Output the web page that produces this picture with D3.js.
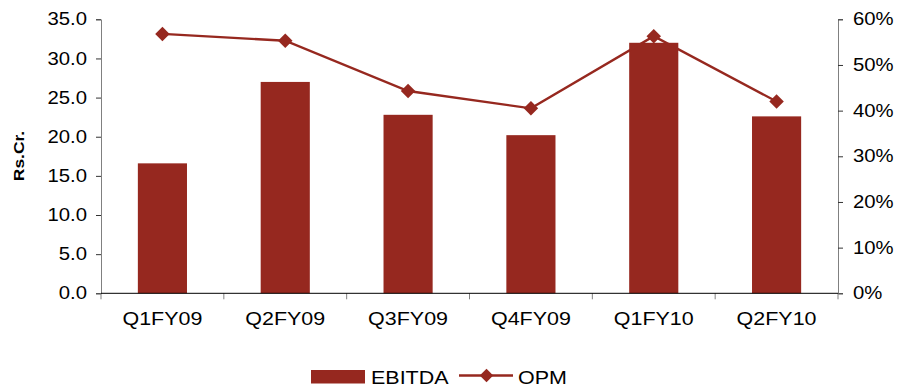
<!DOCTYPE html>
<html>
<head>
<meta charset="utf-8">
<script src="https://cdn.jsdelivr.net/npm/d3@7"></script>
<style>
  html, body { margin: 0; padding: 0; background: #fff; }
  svg { display: block; font-family: "Liberation Sans", Arial, sans-serif; }
</style>
</head>
<body>
<svg id="chart" width="910" height="390"></svg>
<script>
// Quarterly EBITDA (Rs. crore) and operating profit margin
const quarters = ["Q1FY09", "Q2FY09", "Q3FY09", "Q4FY09", "Q1FY10", "Q2FY10"];
const ebitda = [16.6, 27.0, 22.8, 20.2, 32.0, 22.6];
const opm = [0.568, 0.553, 0.443, 0.405, 0.563, 0.420];
const leftTicks = [0, 5, 10, 15, 20, 25, 30, 35];
const rightTicks = [0, 0.1, 0.2, 0.3, 0.4, 0.5, 0.6];

const color = "#96281f";
const axisGrey = "#808080";
const fontFamily = "Liberation Sans, Arial, sans-serif";
const widen = 1.16; // the typeface is set slightly wide

const svg = d3.select("#chart");
const plot = { left: 101, right: 838, top: 19.3, bottom: 293.3 };

const x = d3.scaleBand().domain(quarters).range([plot.left, plot.right]).padding(0);
const yL = d3.scaleLinear().domain([0, 35]).range([plot.bottom, plot.top]);
const yR = d3.scaleLinear().domain([0, 0.6]).range([plot.bottom, plot.top]);
const barW = x.bandwidth() * 0.4;
const markerSize = 105;

// bars
svg.append("g").selectAll("rect").data(quarters).join("rect")
  .attr("x", d => x(d) + (x.bandwidth() - barW) / 2)
  .attr("y", (d, i) => yL(ebitda[i]))
  .attr("width", barW)
  .attr("height", (d, i) => plot.bottom - yL(ebitda[i]))
  .attr("fill", color);

// left axis
const gL = svg.append("g").attr("transform", `translate(${plot.left},0)`)
  .call(d3.axisLeft(yL).tickValues(leftTicks).tickFormat(d3.format(".1f")).tickSize(5).tickPadding(9));
gL.select(".domain").attr("stroke", axisGrey);
gL.selectAll(".tick line").attr("stroke", "#333");
gL.selectAll("text").attr("font-size", "17.5px").attr("fill", "#000").attr("font-family", fontFamily);

// right axis
const gR = svg.append("g").attr("transform", `translate(${plot.right},0)`)
  .call(d3.axisRight(yR).tickValues(rightTicks).tickFormat(d3.format(".0%")).tickSize(5).tickPadding(10));
gR.select(".domain").attr("stroke", axisGrey);
gR.selectAll(".tick line").attr("stroke", "#333");
gR.selectAll("text").attr("font-size", "17.5px").attr("fill", "#000").attr("font-family", fontFamily);

// category axis
const xBounds = d3.range(quarters.length + 1).map(i => plot.left + i * x.step());
const gB = svg.append("g");
gB.selectAll("line.tk").data(xBounds).join("line")
  .attr("class", "tk")
  .attr("x1", d => d).attr("x2", d => d)
  .attr("y1", plot.bottom).attr("y2", plot.bottom + 6)
  .attr("stroke", axisGrey);
gB.append("line")
  .attr("x1", plot.left).attr("x2", plot.right)
  .attr("y1", plot.bottom).attr("y2", plot.bottom)
  .attr("stroke", "#000").attr("stroke-width", 1);
gB.selectAll("text").data(quarters).join("text")
  .attr("x", d => x(d) + x.bandwidth() / 2)
  .attr("y", 325)
  .attr("text-anchor", "middle")
  .attr("font-size", "18.5px")
  .attr("fill", "#000")
  .text(d => d);

// OPM line with diamond markers
const cx = d => x(d) + x.bandwidth() / 2;
const line = d3.line().x(d => cx(d)).y((d, i) => yR(opm[i]));
svg.append("path").datum(quarters)
  .attr("d", line)
  .attr("fill", "none")
  .attr("stroke", color)
  .attr("stroke-width", 2.4);
svg.append("g").selectAll("path").data(quarters).join("path")
  .attr("d", d3.symbol().type(d3.symbolSquare).size(markerSize))
  .attr("transform", (d, i) => `translate(${cx(d)},${yR(opm[i])}) rotate(45)`)
  .attr("fill", color);

// y-axis title
svg.append("text")
  .attr("transform", "translate(24,156) rotate(-90)")
  .attr("text-anchor", "middle")
  .attr("font-size", "15px")
  .attr("font-weight", "bold")
  .attr("fill", "#000")
  .text("Rs.Cr.");

// legend
const lg = svg.append("g");
lg.append("rect").attr("x", 311).attr("y", 370).attr("width", 54).attr("height", 13.5).attr("fill", color);
lg.append("text").attr("x", 371).attr("y", 383.5).attr("font-size", "18.5px").attr("fill", "#000").text("EBITDA");
lg.append("line").attr("x1", 459).attr("x2", 513).attr("y1", 375.5).attr("y2", 375.5)
  .attr("stroke", color).attr("stroke-width", 2.4);
lg.append("path").attr("d", d3.symbol().type(d3.symbolSquare).size(90))
  .attr("transform", "translate(486.5,375.5) rotate(45)").attr("fill", color);
lg.append("text").attr("x", 518).attr("y", 383.5).attr("font-size", "18.5px").attr("fill", "#000").text("OPM");

// widen every label horizontally, keeping its anchor
svg.selectAll("text").each(function () {
  const w = this.getComputedTextLength();
  d3.select(this).attr("textLength", w * widen).attr("lengthAdjust", "spacingAndGlyphs");
});
</script>
</body>
</html>
